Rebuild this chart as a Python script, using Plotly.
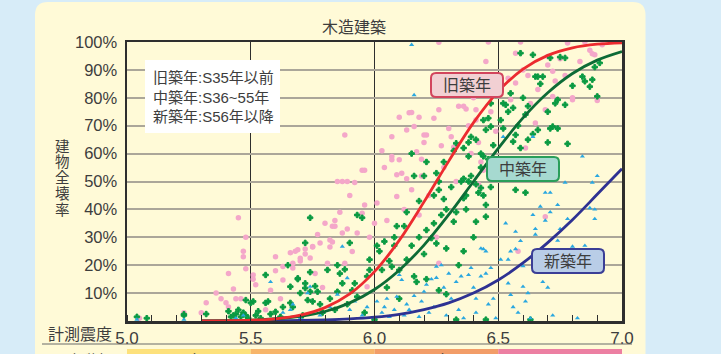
import plotly.graph_objects as go

# ---------------- data ----------------
TITLE = "木造建築"
Y_TITLE = "建物全壊率"
X_TITLE = "計測震度"
X_TICKS = [5.0, 5.5, 6.0, 6.5, 7.0]
X_TICK_TEXT = ["5.0", "5.5", "6.0", "6.5", "7.0"]
Y_TICKS = [10, 20, 30, 40, 50, 60, 70, 80, 90, 100]
Y_TICK_TEXT = ["10%", "20%", "30%", "40%", "50%", "60%", "70%", "80%", "90%", "100%"]
LEGEND_LINES = ["旧築年:S35年以前", "中築年:S36~55年", "新築年:S56年以降"]
SERIES_NAMES = ["旧築年", "中築年", "新築年"]
SHINDO_EDGES = [5.0, 5.5, 6.0, 6.5, 7.0]
SHINDO_LABELS = ["5強", "6弱", "6強", "7"]
SHINDO_TITLE = "震度階級"

CURVE_X = [5.3, 5.4, 5.5, 5.6, 5.7, 5.8, 5.9, 6.0, 6.1, 6.2, 6.3, 6.4, 6.5, 6.6, 6.7, 6.8, 6.9, 7.0]
CURVE_OLD = [0.02, 0.08, 0.27, 0.8, 2.1, 4.8, 9.7, 17.7, 28.9, 42.7, 57.3, 71.1, 82.3, 90.3, 95.2, 97.9, 99.2, 99.7]
CURVE_MID = [0.04, 0.12, 0.3, 0.8, 1.7, 3.4, 6.5, 11.3, 18.2, 27.2, 38.1, 50.0, 61.9, 72.8, 81.8, 88.7, 93.5, 96.6]
CURVE_NEW = [0.006, 0.02, 0.04, 0.08, 0.18, 0.38, 0.73, 1.36, 2.4, 4.1, 6.5, 10.0, 14.7, 20.8, 28.1, 36.3, 45.4, 54.6]

OLD_PTS = [
    (5.05, 1), (5.23, 3), (5.30, 3), (5.32, 6.5), (5.36, 10), (5.38, 8), (5.40, 6.5), (5.41, 17), (5.41, 5),
    (5.43, 11.5), (5.44, 8), (5.45, 37), (5.46, 8), (5.47, 23), (5.47, 25), (5.48, 18.7), (5.48, 30),
    (5.51, 16.5), (5.51, 15), (5.52, 13),
    (5.56, 4), (5.58, 11), (5.60, 18), (5.60, 23), (5.62, 8), (5.63, 19.5), (5.63, 14.7), (5.66, 24.5),
    (5.67, 20.7), (5.67, 19), (5.68, 25), (5.69, 25.5), (5.70, 21.5), (5.70, 22.5), (5.72, 24), (5.72, 25.8),
    (5.74, 22.6), (5.75, 26.5), (5.75, 26.7), (5.76, 17), (5.77, 31), (5.78, 28), (5.79, 12), (5.80, 35),
    (5.81, 20.7), (5.82, 26.5), (5.82, 29), (5.83, 28.3), (5.83, 34), (5.84, 36), (5.84, 34), (5.86, 39),
    (5.87, 31.5), (5.87, 50), (5.88, 20.7), (5.88, 66.7), (5.89, 33), (5.89, 50), (5.85, 50), (5.90, 45),
    (5.91, 24.9), (5.92, 49.6), (5.93, 31.5), (5.95, 38.6), (5.95, 54), (5.96, 41.6), (5.96, 54), (5.97, 12.3),
    (5.98, 30), (6.00, 35), (6.01, 42.3),
    (6.03, 61), (6.04, 55), (6.05, 36), (6.07, 59), (6.07, 66), (6.07, 57.8), (6.09, 44.6), (6.09, 52.4),
    (6.10, 73), (6.10, 57.8), (6.11, 53), (6.12, 40), (6.13, 68.5), (6.13, 51), (6.14, 74.6), (6.15, 74.7),
    (6.15, 47), (6.16, 69.7), (6.17, 60.7), (6.18, 73), (6.18, 38), (6.19, 58), (6.19, 52), (6.20, 66.7),
    (6.20, 64), (6.21, 66.7), (6.22, 45), (6.24, 72.7), (6.25, 30), (6.26, 75.7), (6.26, 99.9), (6.26, 20.7),
    (6.27, 62.8),
    (6.28, 55), (6.30, 69), (6.31, 66), (6.32, 62.3), (6.33, 50), (6.34, 77), (6.36, 77), (6.37, 76),
    (6.38, 70), (6.39, 60), (6.40, 80), (6.41, 72), (6.42, 64), (6.43, 57), (6.44, 86), (6.45, 93),
    (6.46, 100), (6.47, 75), (6.48, 82), (6.49, 68), (6.44, 54), (6.47, 58), (6.42, 49), (6.41, 75.7),
    (6.51, 84), (6.54, 87), (6.55, 79.3), (6.57, 96), (6.57, 85.3), (6.58, 25), (6.59, 100), (6.60, 90),
    (6.61, 62), (6.62, 88), (6.63, 78), (6.65, 71), (6.66, 83), (6.67, 57), (6.69, 75.7), (6.69, 37.4),
    (6.70, 94.8), (6.70, 91.8), (6.72, 89.5), (6.72, 80.5), (6.73, 86), (6.75, 94), (6.77, 88), (6.78, 100),
    (6.78, 99.6), (6.80, 79.3), (6.80, 80), (6.83, 93), (6.85, 100), (6.87, 97), (6.88, 95.8), (6.89, 95.4),
    (6.90, 80.5), (6.90, 79), (6.92, 99),
]

MID_PTS = [
    (5.04, 1.5), (5.08, 1), (5.23, 2), (5.23, 2.4), (5.32, 2.5), (5.41, 3.5), (5.43, 2), (5.42, 1.5),
    (5.44, 2.5), (5.45, 4), (5.46, 1.5), (5.47, 3), (5.48, 2), (5.48, 7.5), (5.49, 1), (5.50, 6.5),
    (5.51, 7), (5.52, 2), (5.53, 3.5), (5.54, 1), (5.56, 16.5), (5.56, 6.5), (5.57, 7), (5.58, 2.5),
    (5.60, 3.3), (5.62, 1.5), (5.63, 5), (5.65, 20), (5.66, 12.3), (5.66, 6.5), (5.67, 5), (5.69, 15),
    (5.69, 15.3), (5.70, 10), (5.71, 2), (5.72, 13.5), (5.72, 11.8), (5.72, 28), (5.73, 7.5), (5.74, 17.5),
    (5.74, 37), (5.74, 10.5), (5.75, 7), (5.76, 12.5), (5.77, 10.5), (5.78, 6), (5.79, 3), (5.81, 18.3),
    (5.82, 8), (5.84, 4), (5.85, 20), (5.85, 10.5), (5.86, 17), (5.87, 13.5), (5.88, 18.5), (5.89, 6),
    (5.90, 28), (5.91, 11), (5.92, 13.5), (5.93, 38), (5.93, 8.7), (5.95, 37), (5.96, 3), (5.97, 16),
    (5.98, 18.3), (5.98, 22),
    (6.00, 0.5), (6.01, 27), (6.02, 25), (6.03, 18.3), (6.04, 28.5), (6.05, 12), (6.06, 21.5), (6.07, 19.5),
    (6.08, 30), (6.08, 27), (6.09, 34), (6.10, 18.3), (6.10, 8), (6.12, 34), (6.13, 39), (6.13, 22),
    (6.15, 27), (6.15, 60), (6.16, 52), (6.16, 16), (6.17, 14), (6.18, 30), (6.18, 43), (6.20, 52),
    (6.20, 24), (6.21, 57), (6.21, 32.6), (6.21, 15), (6.23, 29.7), (6.24, 35), (6.24, 45), (6.25, 53),
    (6.25, 27.8),
    (6.26, 50), (6.26, 47), (6.26, 11), (6.27, 38), (6.28, 43.7), (6.28, 57), (6.29, 40), (6.29, 26),
    (6.29, 9.6), (6.31, 48), (6.32, 35.6), (6.32, 61), (6.33, 39), (6.33, 63.7), (6.33, 0.5), (6.34, 20),
    (6.35, 50), (6.36, 51), (6.36, 44), (6.36, 25), (6.36, 62), (6.37, 45), (6.37, 40), (6.38, 50),
    (6.38, 59), (6.38, 64), (6.39, 66), (6.39, 52), (6.40, 30), (6.41, 49), (6.41, 65), (6.41, 35.6),
    (6.42, 46), (6.43, 55), (6.43, 47.7), (6.43, 60), (6.44, 45), (6.44, 59), (6.44, 72), (6.45, 68.5),
    (6.45, 41.6), (6.45, 37.4), (6.45, 0.5), (6.46, 72.7), (6.46, 58), (6.47, 48), (6.47, 69.7),
    (6.47, 78), (6.48, 63), (6.49, 81), (6.49, 53),
    (6.51, 72), (6.52, 78), (6.52, 69), (6.53, 77.5), (6.54, 75), (6.55, 81.6), (6.56, 76.4), (6.56, 64.3),
    (6.57, 66.7), (6.57, 47), (6.58, 70), (6.59, 62), (6.59, 96), (6.60, 80), (6.61, 74), (6.61, 46),
    (6.62, 77), (6.62, 65), (6.63, 0.5), (6.64, 58), (6.64, 67), (6.64, 95.4), (6.65, 87.6), (6.66, 68.5),
    (6.66, 87.6), (6.67, 85), (6.68, 87.6), (6.70, 64), (6.70, 75), (6.71, 69), (6.71, 94.3), (6.72, 69.7),
    (6.73, 78), (6.74, 69), (6.74, 79.3), (6.75, 94.6), (6.77, 94.3), (6.77, 77.5), (6.78, 63.5),
    (6.80, 84.3), (6.84, 87.6), (6.85, 85.9), (6.87, 84), (6.88, 86.5), (6.89, 91), (6.90, 80.5),
    (6.91, 92.5),
]

NEW_PTS = [
    (5.04, 0.5), (5.23, 0.5), (5.44, 1), (5.47, 2), (5.58, 14), (5.63, 3), (5.66, 4), (5.67, 6),
    (5.70, 1), (5.73, 10), (5.74, 12.3), (5.78, 2), (5.82, 5), (5.85, 9.5), (5.87, 26.7), (5.89, 15.4),
    (5.90, 4), (5.92, 7), (5.95, 2), (5.97, 5),
    (6.01, 7), (6.03, 3), (6.04, 5), (6.05, 8), (6.06, 1.5), (6.08, 4), (6.09, 8.7), (6.10, 16.5),
    (6.11, 14.7), (6.12, 2), (6.13, 6), (6.14, 4), (6.15, 99), (6.16, 81), (6.16, 9), (6.18, 1.5),
    (6.19, 7), (6.20, 10.5), (6.21, 13), (6.22, 3), (6.23, 15), (6.24, 5), (6.25, 15.5), (6.25, 19.5),
    (6.27, 20), (6.28, 12), (6.29, 2), (6.30, 17), (6.31, 8), (6.33, 14), (6.34, 4), (6.35, 16),
    (6.36, 1), (6.38, 16.5), (6.39, 19), (6.40, 12), (6.41, 8), (6.41, 3), (6.43, 26), (6.43, 16),
    (6.44, 25.8), (6.45, 25), (6.45, 17), (6.46, 6), (6.47, 19), (6.48, 8), (6.49, 1),
    (6.51, 22), (6.52, 66), (6.53, 35), (6.54, 22), (6.54, 13.5), (6.55, 25), (6.55, 9.4), (6.56, 5),
    (6.57, 32), (6.57, 25.8), (6.58, 3), (6.59, 28.7), (6.60, 19.7), (6.60, 12.3), (6.61, 7), (6.62, 10),
    (6.63, 1), (6.64, 66), (6.64, 38), (6.65, 33), (6.65, 31), (6.67, 41), (6.68, 14), (6.69, 46),
    (6.69, 36), (6.70, 12), (6.71, 46), (6.71, 39), (6.72, 2), (6.74, 41.6), (6.74, 28.8), (6.75, 33),
    (6.77, 49.6), (6.78, 36.6), (6.80, 26.7), (6.82, 1), (6.84, 59), (6.85, 27), (6.87, 40.5),
    (6.88, 49.6), (6.89, 36.6), (6.89, 40), (6.90, 52),
]

# ---------------- styling ----------------
W, H = 721, 354
ML, MR, MT, MB = 127, 99, 42, 33
PW, PH = W - ML - MR, H - MT - MB
FONT = "Liberation Sans, Arial, Noto Sans CJK JP, sans-serif"
TXT = "#3d3d3d"
CREAM = "#fffad7"
PAGE = "#d7ecf8"


def px(x):
    return (x - ML) / PW


def py(y):
    return (H - MB - y) / PH


def rrect(x0, y0, x1, y1, r):
    return (f"M {px(x0 + r)},{py(y0)} L {px(x1 - r)},{py(y0)} Q {px(x1)},{py(y0)} {px(x1)},{py(y0 + r)} "
            f"L {px(x1)},{py(y1 - r)} Q {px(x1)},{py(y1)} {px(x1 - r)},{py(y1)} "
            f"L {px(x0 + r)},{py(y1)} Q {px(x0)},{py(y1)} {px(x0)},{py(y1 - r)} "
            f"L {px(x0)},{py(y0 + r)} Q {px(x0)},{py(y0)} {px(x0 + r)},{py(y0)} Z")


fig = go.Figure()

fig.add_trace(go.Scatter(x=[p[0] for p in OLD_PTS], y=[p[1] for p in OLD_PTS], mode="markers",
                         marker=dict(symbol="circle", size=5.5, color="#f4a7c9"), showlegend=False))
fig.add_trace(go.Scatter(x=[p[0] for p in MID_PTS], y=[p[1] for p in MID_PTS], mode="markers",
                         marker=dict(symbol="cross", size=4.5, color="#0a9a42",
                                     line=dict(color="#0a9a42", width=1)), showlegend=False))
fig.add_trace(go.Scatter(x=[p[0] for p in NEW_PTS], y=[p[1] for p in NEW_PTS], mode="markers",
                         marker=dict(symbol="triangle-up", size=4.5, color="#2aa7e0"), showlegend=False))

fig.add_trace(go.Scatter(x=CURVE_X, y=CURVE_NEW, mode="lines", line=dict(color="#2e3192", width=2.8, shape="spline"),
                         showlegend=False))
fig.add_trace(go.Scatter(x=CURVE_X, y=CURVE_MID, mode="lines", line=dict(color="#0d6b36", width=2.8, shape="spline"),
                         showlegend=False))
fig.add_trace(go.Scatter(x=CURVE_X, y=CURVE_OLD, mode="lines", line=dict(color="#ec2b2f", width=2.8, shape="spline"),
                         showlegend=False))

shapes = []
# cream panel
shapes.append(dict(type="path", xref="paper", yref="paper", layer="below",
                   path=rrect(35, 2, 645.5, 420, 13), fillcolor=CREAM, line=dict(width=0)))
# shindo bands
band_colors = ["#fde17c", "#f7b56a", "#f29d68", "#ec7fa2"]
for i, c in enumerate(band_colors):
    shapes.append(dict(type="rect", xref="x", yref="paper", layer="below",
                       x0=SHINDO_EDGES[i], x1=SHINDO_EDGES[i + 1], y0=py(372), y1=py(349),
                       fillcolor=c, line=dict(width=0)))
# underline
shapes.append(dict(type="line", xref="paper", yref="paper", x0=px(42), x1=px(632), y0=py(344), y1=py(344),
                   line=dict(color="#6a6a6a", width=1.2)))
# legend box
shapes.append(dict(type="rect", xref="paper", yref="paper", layer="above",
                   x0=px(145), x1=px(280), y0=py(133), y1=py(60), fillcolor="white", line=dict(width=0)))
# series label boxes
label_boxes = [
    (431, 73, 503, 97, "#f2d0d3", "#d2455d"),
    (487, 157, 559, 181, "#a6d9d0", "#2a9e5a"),
    (532, 249, 604, 273, "#b9cde7", "#3b3e96"),
]
for (x0, y0, x1, y1, fc, lc) in label_boxes:
    shapes.append(dict(type="path", xref="paper", yref="paper", layer="above",
                       path=rrect(x0, y0, x1, y1, 5), fillcolor=fc, line=dict(color=lc, width=2)))

ann = []
ann.append(dict(text=TITLE, xref="paper", yref="paper", x=px(354), y=py(27), showarrow=False,
                font=dict(size=16, color=TXT), xanchor="center", yanchor="middle"))
ycent = [146.5, 162, 177.5, 193.5, 209.5]
for ch, yc in zip(Y_TITLE, ycent):
    ann.append(dict(text=ch, xref="paper", yref="paper", x=px(62.5), y=py(yc), showarrow=False,
                    font=dict(size=14.5, color=TXT), xanchor="center", yanchor="middle"))
ann.append(dict(text=X_TITLE, xref="paper", yref="paper", x=px(46), y=py(334), showarrow=False,
                font=dict(size=16, color=TXT), xanchor="left", yanchor="middle"))
ann.append(dict(text="<br>".join(LEGEND_LINES), xref="paper", yref="paper", x=px(151), y=py(97),
                showarrow=False, align="left", font=dict(size=15, color=TXT), xanchor="left", yanchor="middle"))
for (x0, y0, x1, y1, fc, lc), name in zip(label_boxes, SERIES_NAMES):
    ann.append(dict(text=name, xref="paper", yref="paper", x=px((x0 + x1) / 2), y=py((y0 + y1) / 2 + 0.5),
                    showarrow=False, font=dict(size=16, color=TXT), xanchor="center", yanchor="middle"))
ann.append(dict(text=SHINDO_TITLE, xref="paper", yref="paper", x=px(48), y=py(361), showarrow=False,
                font=dict(size=16, color=TXT), xanchor="left", yanchor="middle"))
for i, lab in enumerate(SHINDO_LABELS):
    ann.append(dict(text=lab, xref="x", yref="paper", x=(SHINDO_EDGES[i] + SHINDO_EDGES[i + 1]) / 2, y=py(361),
                    showarrow=False, font=dict(size=16, color=TXT), xanchor="center", yanchor="middle"))

fig.update_layout(
    width=W, height=H, margin=dict(l=ML, r=MR, t=MT, b=MB, pad=0, autoexpand=False),
    paper_bgcolor=PAGE, plot_bgcolor=CREAM,
    font=dict(family=FONT, color=TXT),
    shapes=shapes, annotations=ann, showlegend=False,
    xaxis=dict(range=[5.0, 7.0], tickvals=X_TICKS, ticktext=X_TICK_TEXT, ticks="", automargin=False,
               showgrid=True, gridcolor="#2e2e2e", gridwidth=1, zeroline=False,
               showline=True, linecolor="#2e2e2e", linewidth=2.5, mirror=True,
               tickfont=dict(size=17, color=TXT),
               minor=dict(dtick=0.1, tick0=5.0, ticks="inside", ticklen=6, tickcolor="#2e2e2e", tickwidth=1,
                          showgrid=False)),
    yaxis=dict(range=[0, 100], tickvals=Y_TICKS, ticktext=Y_TICK_TEXT, ticks="", automargin=False,
               showgrid=True, gridcolor="#aba699", gridwidth=2, zeroline=False,
               showline=True, linecolor="#2e2e2e", linewidth=2.5, mirror=True,
               tickfont=dict(size=16.5, color=TXT), ticklabelstandoff=4),
)

fig.write_html("out.html", config={"displayModeBar": False, "staticPlot": True},
               post_script="document.body.style.margin='0';document.body.style.overflow='hidden';")
